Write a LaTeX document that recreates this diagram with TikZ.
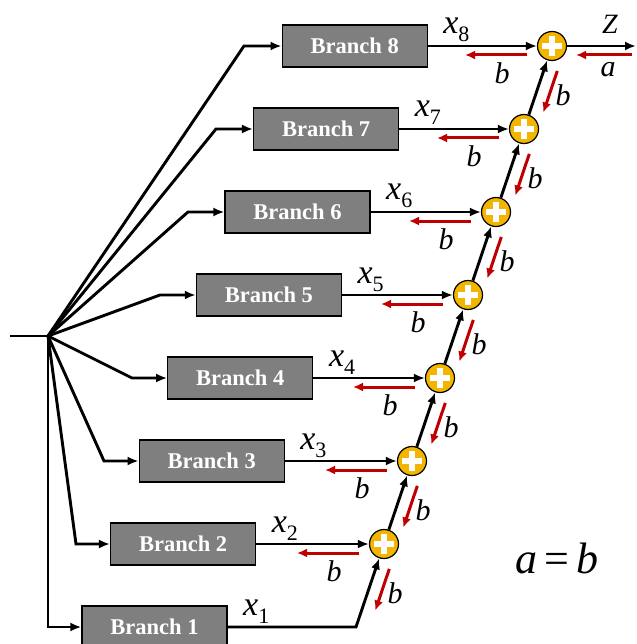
\documentclass[tikz,border=0pt]{standalone}
\usepackage{fontspec}
\setmainfont{Liberation Serif}
\usetikzlibrary{arrows.meta,calc}
\definecolor{boxgray}{RGB}{127,127,127}
\definecolor{sumfill}{RGB}{243,182,0}
\definecolor{redarr}{RGB}{192,0,0}
\tikzset{
  branchbox/.style={draw=black, line width=1.3pt, fill=boxgray, minimum width=145pt,
    minimum height=42pt, inner sep=0pt, text=white, font=\fontsize{22.5}{22.5}\selectfont\bfseries},
  sumnode/.style={circle, draw=black, line width=1.2pt, fill=sumfill, minimum size=29pt, inner sep=0pt},
  wire/.style={line width=2.9pt, line join=miter},
  arr/.style={wire, -{Latex[length=11pt,width=9pt]}},
  redarrow/.style={line width=3pt, draw=redarr, -{Latex[length=10pt,width=9pt]}},
  lbl/.style={font=\fontsize{30}{30}\selectfont\itshape, inner sep=0pt},
  xlbl/.style={font=\fontsize{34}{34}\selectfont, inner sep=0pt, anchor=base west},
  plus/.style={draw=white, line width=6pt},
}
\newcommand{\xsub}[1]{\textit{x}\raisebox{-8pt}{\fontsize{22}{22}\selectfont #1}}
\begin{document}
\begin{tikzpicture}[x=1pt,y=-1pt]
\useasboundingbox (0,0) rectangle (636,644);
\clip (0,0) rectangle (636,644);
% input
\coordinate (in) at (10,336);
\coordinate (fan) at (48,336);
\draw[wire] (in) -- (fan);
% branches
\foreach \k in {1,...,8}{
  \pgfmathsetmacro{\yy}{46+(8-\k)*83}
  \pgfmathsetmacro{\bx}{82+(\k-1)*28.6+72.5}
  \pgfmathsetmacro{\bend}{48+(\k-1)*28}
  \pgfmathsetmacro{\bxr}{82+(\k-1)*28.6+145+16}
  \node[branchbox] (box\k) at (\bx,\yy) {Branch \k};
  \coordinate (bend\k) at (\bend,\yy);
  \draw[arr] (fan) -- (bend\k) -- (box\k.west);
  \node[xlbl] (xl\k) at (\bxr,\yy-12) {\xsub{\k}};
}
% sum nodes
\foreach \k in {2,...,8}{
  \pgfmathsetmacro{\yy}{46+(8-\k)*83}
  \pgfmathsetmacro{\sx}{384+(\k-2)*28}
  \node[sumnode] (sum\k) at (\sx,\yy) {};
  \draw[plus] ($(sum\k)+(-10,0)$) -- ($(sum\k)+(10,0)$);
  \draw[plus] ($(sum\k)+(0,-10)$) -- ($(sum\k)+(0,10)$);
  \draw[arr] (box\k.east) -- (sum\k);
  \draw[redarrow] ($(sum\k)+(-25,9)$) -- ($(sum\k)+(-87,9)$);
  \node[lbl] (bl\k) at ($(sum\k)+(-50,27)$) {b};
}
% branch 1 output
\coordinate (sum1) at (356,627);
\draw[arr] (box1.east) -- (sum1) -- (sum2);
% chain
\foreach \k [evaluate=\k as \kn using int(\k+1)] in {2,...,7}{
  \draw[arr] (sum\k) -- (sum\kn);
}
\foreach \k [evaluate=\k as \kn using int(\k+1)] in {1,...,7}{
  \coordinate (m\k) at ($(sum\k)!0.5!(sum\kn)$);
  \draw[redarrow] ($(m\k)+(19.3,-16.6)$) -- ($(m\k)+(5.3,25.0)$);
  \node[lbl] (db\k) at ($(m\k)+(25,8)$) {b};
}
% output
\coordinate (zend) at (636,46);
\draw[arr] (sum8) -- (zend);
\node[font=\fontsize{28}{28}\selectfont\itshape, inner sep=0pt] (zl) at (610,24) {Z};
\coordinate (ra1) at (632,55);
\coordinate (ra2) at (576,55);
\draw[redarrow] (ra1) -- (ra2);
\node[lbl] (al) at (608,70) {a};
% a = b
\node[font=\fontsize{44}{44}\selectfont, inner sep=0pt] (eq) at (557,558) {\textit{a}\,=\,\textit{b}};
\end{tikzpicture}
\end{document}
